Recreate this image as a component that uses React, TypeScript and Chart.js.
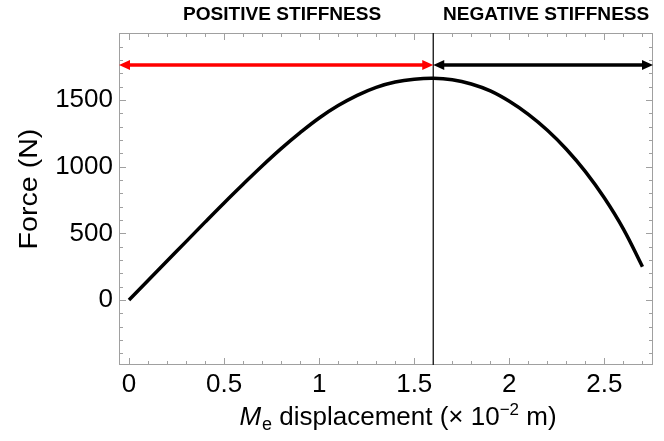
import React, { useEffect, useRef } from 'react';
import { Chart, registerables } from 'chart.js';

Chart.register(...registerables);

// ---- data ----
const displacement = [0, 0.1, 0.2, 0.3, 0.4, 0.5, 0.6, 0.7, 0.8, 0.9, 1.0, 1.1, 1.2, 1.3, 1.4, 1.5, 1.6, 1.7, 1.8, 1.9, 2.0, 2.1, 2.2, 2.3, 2.4, 2.5, 2.6, 2.7];
const force = [0, 146, 292, 438, 584, 728, 868, 1005, 1135, 1255, 1365, 1458, 1535, 1595, 1635, 1656, 1663, 1652, 1620, 1568, 1490, 1392, 1273, 1131, 963, 765, 532, 250];

const xTickValues = [0, 0.5, 1, 1.5, 2, 2.5];
const yTickValues = [0, 500, 1000, 1500];
const xRange = [-0.0526, 2.7555];
const yRange = [-487.5, 2002.5];

const stiffnessBoundary = 1.6;
const arrowLevel = 1762;
const regionLabels = ['POSITIVE STIFFNESS', 'NEGATIVE STIFFNESS'];
const regionColors = ['#ff0000', '#000000'];
const yTitle = 'Force (N)';
const xTitleParts = ['M', 'e', ' displacement (\u00d7 10', '\u22122', ' m)'];

const FONT = "'Liberation Sans', Arial, Helvetica, sans-serif";

const decorPlugin = {
  id: 'decor',
  beforeDatasetsDraw(chart: any) {
    const { ctx, chartArea: a, scales } = chart;
    const xs = scales.x;
    const ys = scales.y;
    ctx.save();
    // frame
    ctx.strokeStyle = '#a0a0a0';
    ctx.lineWidth = 1;
    ctx.strokeRect(a.left + 0.5, a.top + 0.5, a.right - a.left - 1, a.bottom - a.top - 1);
    // x ticks (top & bottom)
    ctx.beginPath();
    for (let i = 0; i <= 27; i++) {
      const v = i / 10;
      const major = i % 5 === 0;
      const len = major ? 7 : 4;
      const px = Math.round(xs.getPixelForValue(v)) + 0.5;
      ctx.moveTo(px, a.bottom);
      ctx.lineTo(px, a.bottom - len);
      ctx.moveTo(px, a.top);
      ctx.lineTo(px, a.top + len);
    }
    // y ticks (left & right)
    for (let i = -4; i <= 20; i++) {
      const v = i * 100;
      const major = i % 5 === 0;
      const len = major ? 7 : 4;
      const py = Math.round(ys.getPixelForValue(v)) + 0.5;
      ctx.moveTo(a.left, py);
      ctx.lineTo(a.left + len, py);
      ctx.moveTo(a.right, py);
      ctx.lineTo(a.right - len, py);
    }
    ctx.stroke();
    // boundary line
    const bx = xs.getPixelForValue(stiffnessBoundary);
    ctx.strokeStyle = '#222';
    ctx.lineWidth = 1.4;
    ctx.beginPath();
    ctx.moveTo(bx, a.top);
    ctx.lineTo(bx, a.bottom);
    ctx.stroke();
    ctx.restore();
  },
  afterDatasetsDraw(chart: any) {
    const { ctx, chartArea: a, scales } = chart;
    const xs = scales.x;
    const ys = scales.y;
    const bx = xs.getPixelForValue(stiffnessBoundary);
    const ay = ys.getPixelForValue(arrowLevel);
    const ranges = [
      [xs.getPixelForValue(xRange[0]), bx],
      [bx, xs.getPixelForValue(xRange[1])],
    ];
    ctx.save();
    const headL = 11;
    const headW = 5;
    ranges.forEach(([x0, x1], i) => {
      ctx.strokeStyle = regionColors[i];
      ctx.fillStyle = regionColors[i];
      ctx.lineWidth = 3.5;
      ctx.beginPath();
      ctx.moveTo(x0 + headL - 1, ay);
      ctx.lineTo(x1 - headL + 1, ay);
      ctx.stroke();
      ctx.beginPath();
      ctx.moveTo(x0, ay);
      ctx.lineTo(x0 + headL, ay - headW);
      ctx.lineTo(x0 + headL, ay + headW);
      ctx.closePath();
      ctx.fill();
      ctx.beginPath();
      ctx.moveTo(x1, ay);
      ctx.lineTo(x1 - headL, ay - headW);
      ctx.lineTo(x1 - headL, ay + headW);
      ctx.closePath();
      ctx.fill();
    });
    // region labels
    ctx.fillStyle = '#000';
    ctx.font = `bold 18px ${FONT}`;
    ctx.textAlign = 'center';
    ctx.textBaseline = 'alphabetic';
    const centers = [(ranges[0][0] + ranges[0][1]) / 2 + 6, (ranges[1][0] + ranges[1][1]) / 2 + 3];
    regionLabels.forEach((t, i) => {
      ctx.save();
      ctx.translate(centers[i], 19.5);
      ctx.scale(1.06, 1);
      ctx.fillText(t, 0, 0);
      ctx.restore();
    });
    // y title
    ctx.save();
    ctx.font = `26px ${FONT}`;
    ctx.textAlign = 'center';
    ctx.textBaseline = 'middle';
    ctx.translate(30, 189);
    ctx.rotate(-Math.PI / 2);
    ctx.scale(1.1, 1);
    ctx.fillText(yTitle, 0, 0);
    ctx.restore();
    // x title with italic M, subscript e, superscript -2
    const fonts = [
      `italic 26px ${FONT}`,
      `18px ${FONT}`,
      `26px ${FONT}`,
      `17px ${FONT}`,
      `26px ${FONT}`,
    ];
    const offs = [0, 5, 0, -10, 0];
    const widths = xTitleParts.map((p, i) => {
      ctx.font = fonts[i];
      return ctx.measureText(p).width;
    });
    const total = widths.reduce((s, w) => s + w, 0) + 1;
    const cx = (a.left + a.right) / 2 + 12;
    const baseY = 425;
    let x = cx - total / 2;
    ctx.textAlign = 'left';
    ctx.textBaseline = 'alphabetic';
    xTitleParts.forEach((p, i) => {
      ctx.font = fonts[i];
      ctx.fillText(p, x, baseY + offs[i]);
      x += widths[i] + (i === 0 ? 1 : 0);
    });
    ctx.restore();
  },
};

export default function App() {
  const ref = useRef<HTMLCanvasElement | null>(null);
  useEffect(() => {
    const canvas = ref.current;
    if (!canvas) return;
    const chart = new Chart(canvas, {
      type: 'line',
      data: {
        datasets: [
          {
            data: displacement.map((d, i) => ({ x: d, y: force[i] })),
            borderColor: '#000',
            borderWidth: 3.5,
            pointRadius: 0,
            tension: 0.4,
            fill: false,
          },
        ],
      },
      options: {
        animation: false,
        responsive: true,
        maintainAspectRatio: false,
        layout: { padding: { top: 33, right: 11, left: 0, bottom: 0 } },
        plugins: { legend: { display: false }, tooltip: { enabled: false } },
        scales: {
          x: {
            type: 'linear',
            min: xRange[0],
            max: xRange[1],
            grid: { display: false, drawTicks: false },
            border: { display: false },
            afterBuildTicks: (s: any) => {
              s.ticks = xTickValues.map((v) => ({ value: v }));
            },
            afterFit: (s: any) => {
              s.height = 76;
            },
            ticks: {
              color: '#000',
              padding: 4,
              maxRotation: 0,
              autoSkip: false,
              font: { family: FONT, size: 26 },
              callback: (v: any) => String(v),
            },
          },
          y: {
            type: 'linear',
            min: yRange[0],
            max: yRange[1],
            grid: { display: false, drawTicks: false },
            border: { display: false },
            afterBuildTicks: (s: any) => {
              s.ticks = yTickValues.map((v) => ({ value: v }));
            },
            afterFit: (s: any) => {
              s.width = 119;
            },
            ticks: {
              color: '#000',
              padding: 6,
              autoSkip: false,
              font: { family: FONT, size: 26 },
              callback: (v: any) => String(v),
            },
          },
        },
      },
      plugins: [decorPlugin],
    } as any);
    return () => chart.destroy();
  }, []);
  return (
    <div style={{ position: 'fixed', left: 0, top: 0, width: 664, height: 441, background: '#fff' }}>
      <canvas ref={ref} />
    </div>
  );
}
